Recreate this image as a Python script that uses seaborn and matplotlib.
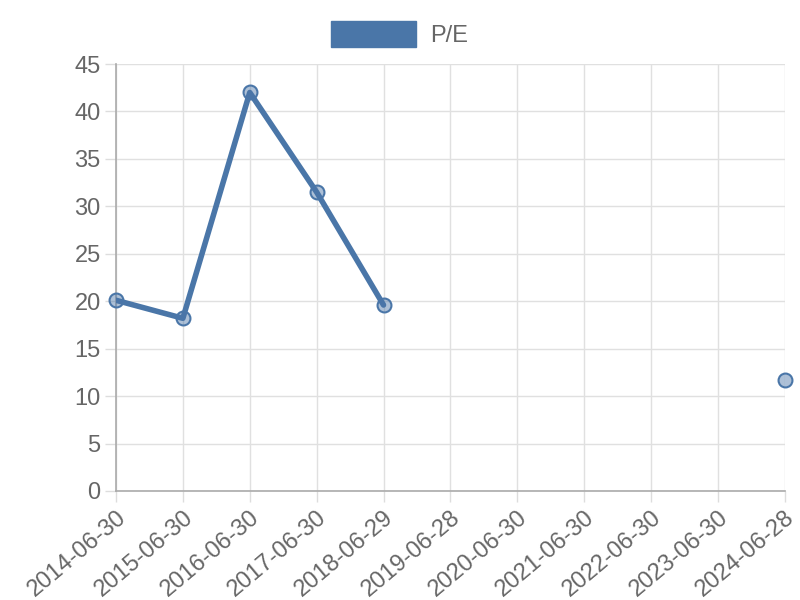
import numpy as np
import pandas as pd
import matplotlib
matplotlib.use("Agg")
import matplotlib.pyplot as plt
import seaborn as sns
from matplotlib.patches import Patch

dates = ["2014-06-30", "2015-06-30", "2016-06-30", "2017-06-30", "2018-06-29",
         "2019-06-28", "2020-06-30", "2021-06-30", "2022-06-30", "2023-06-30",
         "2024-06-28"]
pe = [20.1, 18.2, 42.0, 31.5, 19.6, np.nan, np.nan, np.nan, np.nan, np.nan, 11.7]
y_ticks = [0, 5, 10, 15, 20, 25, 30, 35, 40, 45]

line_color = "#4a76a8"
text_color = "#666666"

sns.set_theme(style="white")
plt.rcParams["font.family"] = ["Liberation Sans", "DejaVu Sans"]

df = pd.DataFrame({"pos": np.arange(len(dates)), "date": dates, "pe": pe})
# break the line where values are missing
df["run"] = df["pe"].isna().cumsum()
valid = df.dropna(subset=["pe"])

fig = plt.figure(figsize=(8, 6), dpi=100)
ax = fig.add_axes([0.145, 0.1817, 0.836, 0.7116])

for _, seg in valid.groupby("run"):
    if len(seg) > 1:
        sns.lineplot(data=seg, x="pos", y="pe", ax=ax, color=line_color,
                     linewidth=4.0, legend=False, zorder=3)
sns.scatterplot(data=valid, x="pos", y="pe", ax=ax, s=100,
                color=(0.29, 0.46, 0.66, 0.45), edgecolor=line_color,
                linewidth=1.5, legend=False, zorder=4, clip_on=False)

ax.set_xlim(0, len(dates) - 1)
ax.set_ylim(0, 45)
ax.set_xticks(df["pos"])
ax.set_xticklabels(dates, rotation=40, ha="right", rotation_mode="anchor")
ax.set_yticks(y_ticks)
ax.set_xlabel("")
ax.set_ylabel("")

ax.grid(True, color="#e0e0e0", linewidth=1)
ax.set_axisbelow(True)
for side in ["top", "right"]:
    ax.spines[side].set_visible(False)
for side in ["left", "bottom"]:
    ax.spines[side].set_color("#aaaaaa")
    ax.spines[side].set_linewidth(1.2)
ax.tick_params(axis="both", colors="#dddddd", labelcolor=text_color,
               labelsize=17, length=8, width=1, direction="out", pad=3,
               left=True, bottom=True)

fig.legend(handles=[Patch(facecolor=line_color, edgecolor=line_color, label="P/E")],
           loc="upper center", bbox_to_anchor=(0.5, 1.0), frameon=False,
           fontsize=17, handlelength=3.6, handleheight=1.3, labelcolor=text_color,
           handletextpad=0.6)

fig.savefig("out.png", dpi=100)
